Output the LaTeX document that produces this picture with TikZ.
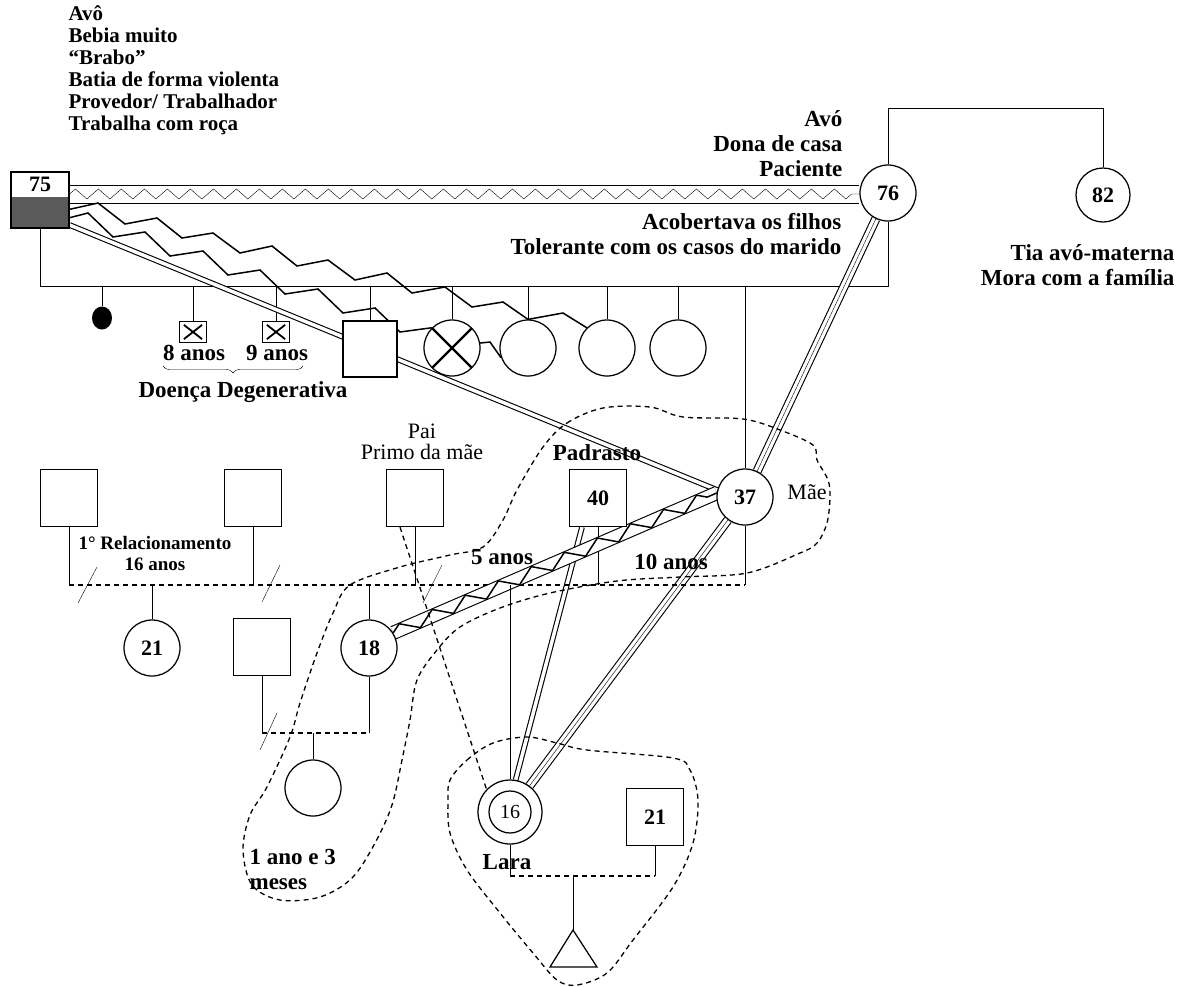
\documentclass[tikz,border=0pt]{standalone}
\usepackage{fontspec}
\setmainfont{Liberation Serif}
\usetikzlibrary{shapes.geometric,decorations.pathmorphing,decorations.pathreplacing,calc,backgrounds}
\definecolor{gfgray}{RGB}{90,90,90}
\begin{document}
\begin{tikzpicture}[x=1pt,y=-1pt,line width=1.25pt,
  every node/.style={inner sep=0pt},
  bl/.style={font=\fontsize{23}{25}\selectfont\bfseries},
  num/.style={font=\fontsize{22}{25}\selectfont\bfseries},
  rg/.style={font=\fontsize{22}{21}\selectfont},
  sq/.style={draw,rectangle,minimum width=57pt,minimum height=57pt,fill=white,num},
  ci/.style={draw,circle,minimum size=56pt,fill=white,num},
  xbox/.style={draw,rectangle,minimum width=27pt,minimum height=21pt,fill=white},
  dsh/.style={dash pattern=on 5pt off 4pt,line width=1.3pt},
  dbl/.style={double,double distance=3.5pt,line width=1.1pt},
  trpl/.style={double,double distance=7pt,line width=1.1pt},
  hz/.style={line width=1.5pt,line join=miter},
  zz/.style={decorate,decoration={zigzag,segment length=23pt,amplitude=5pt}}]
\useasboundingbox (0,0) rectangle (1189,986);

% ---------- nodes ----------
\node[draw,minimum width=58pt,minimum height=56pt,
  path picture={\fill[gfgray] (path picture bounding box.south west) rectangle ([yshift=3pt]path picture bounding box.east);}] (gf) at (40,200) {};
\node[num] (gfage) at (40,184) {75};
\node[ci] (gm) at (888,193) {76};
\node[ci,minimum size=54pt] (ta) at (1103,195) {82};

\node[ellipse,fill=black,minimum width=20pt,minimum height=23pt] (d0) at (102,318) {};
\node[xbox] (d1) at (193,332) {};
\node[xbox] (d2) at (276,332) {};
\node[sq,minimum width=54pt,minimum height=56pt] (s1) at (370,349) {};
\node[ci] (d4) at (452,348) {};
\node[ci] (c1) at (528,348) {};
\node[ci] (c2) at (607,348) {};
\node[ci] (c3) at (678,348) {};
\node[ci] (mae) at (745,497) {37};

\node[sq] (b1) at (69,498) {};
\node[sq] (b2) at (253,498) {};
\node[sq] (pai) at (415,498) {};
\node[sq] (pad) at (598,498) {40};

\node[ci] (f21) at (152,648) {21};
\node[sq] (h18) at (262,647) {};
\node[ci] (f18) at (369,648) {18};
\node[ci] (gc) at (313,788) {};

\node[draw,circle,minimum size=64pt,fill=white] (lara) at (510,812) {};
\node[draw,circle,minimum size=42pt,font=\fontsize{20}{22}\selectfont] (larain) at (510,812) {16};
\node[sq] (p21) at (655,817) {21};
\coordinate (baby) at (573,930);

% crosses
\draw[line width=1.8pt] ([shift={(5pt,4pt)}]d1.south west) -- ([shift={(-5pt,-4pt)}]d1.north east);
\draw[line width=1.8pt] ([shift={(5pt,-4pt)}]d1.north west) -- ([shift={(-5pt,4pt)}]d1.south east);
\draw[line width=1.8pt] ([shift={(5pt,4pt)}]d2.south west) -- ([shift={(-5pt,-4pt)}]d2.north east);
\draw[line width=1.8pt] ([shift={(5pt,-4pt)}]d2.north west) -- ([shift={(-5pt,4pt)}]d2.south east);
\draw[line width=2.2pt,shorten <=1pt,shorten >=1pt] (d4.north west) -- (d4.south east);
\draw[line width=2.2pt,shorten <=1pt,shorten >=1pt] (d4.north east) -- (d4.south west);

% baby triangle
\draw (baby) -- (597,967) -- (550,967) -- cycle;

% ---------- texts ----------
\node[anchor=north west,align=left,font=\fontsize{21}{22}\selectfont\bfseries] (t1) at (68,5)
 {Avô\\Bebia muito\\“Brabo”\\Batia de forma violenta\\Provedor/ Trabalhador\\Trabalha com roça};
\node[anchor=north east,align=right,bl] (t2) at (843,110) {Avó\\Dona de casa\\Paciente};
\node[anchor=north east,align=right,bl] (t3) at (842,213) {Acobertava os filhos\\Tolerante com os casos do marido};
\node[anchor=north east,align=right,bl] (t4) at (1175,244) {Tia avó-materna\\Mora com a família};
\node[bl] (t5) at (194,353) {8 anos};
\node[bl] (t6) at (277,353) {9 anos};
\node[bl] (t7) at (243,392) {Doença Degenerativa};
\node[rg,align=center] (t8) at (422,442) {Pai\\Primo da mãe};
\node[bl] (t9) at (597,453) {Padrasto};
\node[rg] (t10) at (807,492) {Mãe};
\node[align=center,font=\fontsize{19}{21}\selectfont\bfseries] (t11) at (155,553) {1° Relacionamento\\16 anos};
\node[bl] (t12) at (502,557) {5 anos};
\node[bl] (t13) at (671,562) {10 anos};
\node[anchor=north west,align=left,bl] (t14) at (249,849) {1 ano e 3\\meses};
\node[bl] (t15) at (507,862) {Lara};

% ---------- connectors ----------
\begin{scope}[on background layer]
% grandparents
\draw (gf.east |- 0,185) -- (gm.west |- 0,185);
\draw (gf.east |- 0,203) -- (gm.west |- 0,203);
\draw[zz] (gf.east |- 0,194) -- ([xshift=2pt]gm.west |- 0,194);
\draw (gm.north) -- (gm.north |- 0,108) -- (ta.north |- 0,108) -- (ta.north);
% sibling line
\draw (gf.south) -- (gf.south |- 0,286) -- (gm.south |- 0,286) -- (gm.south);
\foreach \n in {d0,d1,d2,s1,d4,c1,c2,c3,mae}
  \draw (\n.north |- 0,286) -- (\n.north);
% brace
\draw[decorate,decoration={brace,mirror,amplitude=7pt}] (163,366) -- (303,366);
% hostile zigzags from grandfather
\draw[hz] ([shift={(-3pt,-10pt)}]gf.east) -- (98,203) -- (125,224) -- (157,218) -- (182,238) -- (213,233) -- (240,253) -- (272,246) -- (297,266) -- (328,260) -- (355,280) -- (387,273) -- (412,293) -- (445,287) -- (472,307) -- (503,302) -- (c1.north) -- (563,313) -- (c2.north west);
\draw[hz] ([shift={(-9pt,-20pt)}]gf.east) -- (88,213) -- (113,237) -- (145,232) -- (170,256) -- (203,251) -- (228,275) -- (260,270) -- (285,294) -- (318,289) -- (343,313) -- (375,308) -- (400,332) -- (d4.north west);
\draw[hz] (d4.10) -- (490,342) -- (c1.200);
% double line grandfather - mother
\draw[dbl] ([yshift=-25pt]gf.east) -- (mae.166);
% triple lines
\draw[trpl] (gm) -- (mae);
\draw (gm) -- (mae);
\draw[trpl] (mae) -- (lara);
\draw (mae) -- (lara);
% double padrasto - Lara
\draw[dbl] ([xshift=-16pt]pad.south) -- (lara.80);
% mother relationships
\draw (mae.south) -- (mae.south |- 0,585);
\draw[dsh] (b1.south |- 0,585) -- (mae.south |- 0,585);
\foreach \n in {b1,b2,pai,pad}
  \draw (\n.south) -- (\n.south |- 0,585);
\draw (f21.north |- 0,585) -- (f21.north);
\draw (f18.north |- 0,585) -- (f18.north);
\draw (78,603) -- (97,567);
\draw (262,602) -- (280,565);
\draw (423,603) -- (442,565);
% 18 - mother band
\draw[double,double distance=12pt,line width=1.1pt] (f18.32) -- (mae.172);
\draw[hz,decorate,decoration={zigzag,segment length=36pt,amplitude=6pt}] (f18.32) -- (mae.172);
% 18 family
\draw (h18.south) -- (h18.south |- 0,733);
\draw[dsh] (h18.south |- 0,733) -- (f18.south |- 0,733);
\draw (f18.south) -- (f18.south |- 0,733);
\draw (gc.north |- 0,733) -- (gc.north);
\draw (260,750) -- (277,713);
% Lara
\draw (lara.north |- 0,585) -- (lara.north);
\draw[dsh] ([xshift=-15pt]pai.south) -- (lara.136);
\draw (lara.south) -- (lara.south |- 0,876);
\draw[dsh] (lara.south |- 0,876) -- (p21.south |- 0,876);
\draw (p21.south) -- (p21.south |- 0,876);
\draw (baby |- 0,876) -- (baby);
% boundaries
\draw[dsh] plot[smooth cycle,tension=0.55] coordinates {
 (543,447) (567,423) (603,408) (650,407) (683,417) (743,419) (780,430) (813,445)
 (817,460) (828,480) (830,497) (827,523) (817,543) (800,553) (747,573) (680,577)
 (617,581) (550,593) (500,608) (460,627) (437,650) (417,680) (410,720) (402,760)
 (392,805) (375,843) (352,878) (320,897) (280,900) (252,885) (243,850) (250,815)
 (267,787) (290,737)
 (300,703) (317,653) (333,613) (350,585) (400,567) (450,555) (483,547) (503,520)
 (517,490)};
\draw[dsh] plot[smooth cycle,tension=0.55] coordinates {
 (450,780) (467,760) (493,743) (527,737) (557,743) (587,750) (673,758) (690,770)
 (698,800) (693,843) (673,887) (633,940) (607,973) (577,985) (557,980) (533,953)
 (500,913) (467,870) (450,833) (448,800)};
\end{scope}
\end{tikzpicture}
\end{document}
